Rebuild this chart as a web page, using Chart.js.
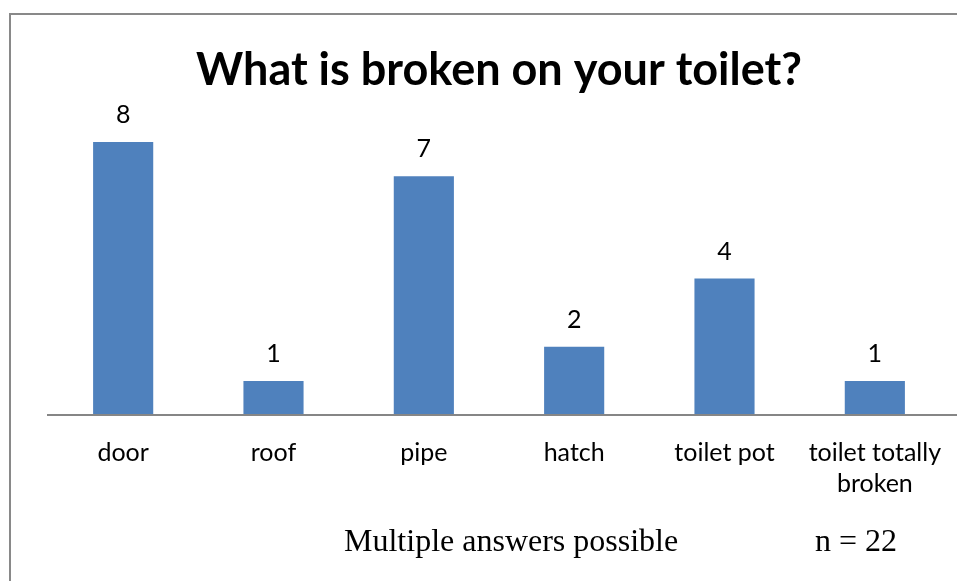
<!DOCTYPE html>
<html>
<head>
<meta charset="utf-8">
<script src="https://cdn.jsdelivr.net/npm/chart.js@4/dist/chart.umd.min.js"></script>
<style>
  html, body { margin: 0; padding: 0; background: #fff; }
  #wrap { width: 957px; height: 581px; position: relative; }
</style>
</head>
<body>
<div id="wrap"><canvas id="toiletChart" width="957" height="581"></canvas></div>
<script>
// data
const categories = ['door', 'roof', 'pipe', 'hatch', 'toilet pot', ['toilet totally', 'broken']];
const counts = [8, 1, 7, 2, 4, 1];
const titleText = 'What is broken on your toilet?';
const noteText = 'Multiple answers possible';
const sampleText = 'n = 22';

// frame, axis line, value labels and footnote
const extras = {
    id: 'extras',
    afterDraw(chart) {
        const ctx = chart.ctx;
        const y0 = chart.scales.y.getPixelForValue(0);
        ctx.save();
        // outer frame (top + left edge)
        ctx.strokeStyle = '#898989';
        ctx.lineWidth = 2;
        ctx.beginPath();
        ctx.moveTo(10, 581);
        ctx.lineTo(10, 14);
        ctx.lineTo(957, 14);
        ctx.stroke();
        // category axis line
        ctx.strokeStyle = '#868686';
        ctx.beginPath();
        ctx.moveTo(47, y0);
        ctx.lineTo(957, y0);
        ctx.stroke();
        // value labels
        ctx.fillStyle = '#000';
        ctx.font = '25px Lato';
        ctx.textAlign = 'center';
        ctx.textBaseline = 'alphabetic';
        chart.getDatasetMeta(0).data.forEach((bar, i) => {
            ctx.fillText(String(counts[i]), bar.x, bar.y - 19);
        });
        // footnote
        ctx.font = '32px "Liberation Serif"';
        ctx.textAlign = 'left';
        ctx.fillText(noteText, 344, 551);
        ctx.fillText(sampleText, 815, 551);
        ctx.restore();
    }
};

const canvas = document.getElementById('toiletChart');
new Chart(canvas.getContext('2d'), {
    type: 'bar',
    data: {
        labels: categories,
        datasets: [{
            data: counts,
            backgroundColor: '#4F81BD',
            borderWidth: 0,
            barPercentage: 0.4,
            categoryPercentage: 1
        }]
    },
    options: {
        responsive: false,
        animation: false,
        layout: { padding: { top: 16, left: 48, right: 7, bottom: 0 } },
        plugins: {
            legend: { display: false },
            tooltip: { enabled: false },
            title: {
                display: true,
                text: titleText,
                color: '#000',
                font: { family: 'Lato', size: 45, weight: 'bold' },
                padding: { top: 27, bottom: 11 }
            }
        },
        scales: {
            x: {
                grid: { display: false, drawTicks: false },
                border: { display: false },
                ticks: {
                    color: '#000',
                    font: { family: 'Lato', size: 25, lineHeight: 1.26 },
                    padding: 22,
                    maxRotation: 0,
                    autoSkip: false
                },
                afterFit(scale) {
                    scale.height = 166;
                    scale.paddingLeft = 0;
                    scale.paddingRight = 0;
                }
            },
            y: {
                display: false,
                min: 0,
                max: 9
            }
        }
    },
    plugins: [extras]
});
</script>
</body>
</html>
